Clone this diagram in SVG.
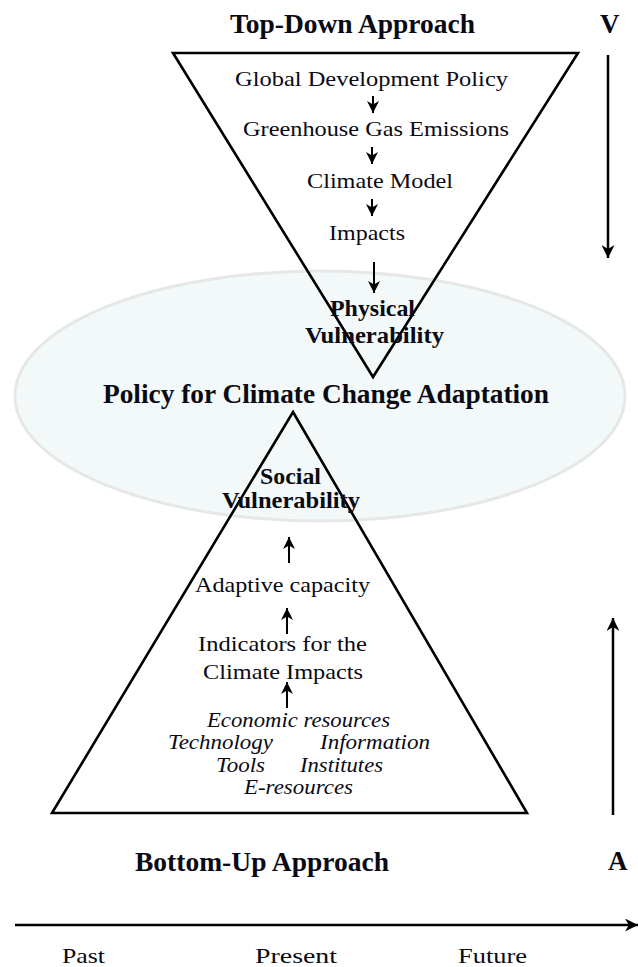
<svg xmlns="http://www.w3.org/2000/svg" width="638" height="967" viewBox="0 0 638 967">
<style>
  text { font-family: "Liberation Serif", "Times New Roman", serif; fill: #0a0a14; }
  .t { font-size: 22px; }
  .b { font-size: 27px; font-weight: bold; }
  .bv { font-size: 24px; font-weight: bold; }
  .i { font-size: 21px; font-style: italic; }
  .tri { fill: none; stroke: #000; stroke-width: 2.6; stroke-linejoin: miter; }
  .arr { fill: none; stroke: #000; stroke-width: 2; marker-end: url(#ah); }
  .big { fill: none; stroke: #000; stroke-width: 2.5; marker-end: url(#ah2); }
</style>
<defs>
  <marker id="ah" viewBox="0 0 10 10" refX="10" refY="5" markerWidth="12" markerHeight="12" markerUnits="userSpaceOnUse" orient="auto">
    <path d="M0,0 L10,5 L0,10 L3,5 Z" fill="#000"/>
  </marker>
  <marker id="ah2" viewBox="0 0 10 10" refX="10" refY="5" markerWidth="13" markerHeight="13" markerUnits="userSpaceOnUse" orient="auto">
    <path d="M0,0 L10,5 L0,10 L3,5 Z" fill="#000"/>
  </marker>
</defs>
<rect width="638" height="967" fill="#fff"/>

<g id="policy-ellipse">
  <ellipse cx="320" cy="396" rx="305" ry="125" fill="#f3f8f8" stroke="#e6e8e8" stroke-width="3"/>
</g>

<g id="top-triangle">
  <polygon class="tri" points="173,53 578,53 373,377"/>
</g>
<g id="bottom-triangle">
  <polygon class="tri" points="293,412 527,813 52,813"/>
</g>

<g id="connectors">
  <line class="arr" x1="373" y1="96" x2="373" y2="113"/>
  <line class="arr" x1="372" y1="147" x2="372" y2="164"/>
  <line class="arr" x1="372" y1="199" x2="372" y2="216"/>
  <line class="arr" x1="374" y1="262" x2="374" y2="293"/>
  <line class="arr" x1="289" y1="563" x2="289" y2="537"/>
  <line class="arr" x1="287" y1="634" x2="287" y2="608"/>
  <line class="arr" x1="287" y1="708" x2="287" y2="682"/>
  <line class="big" x1="608" y1="55" x2="608" y2="258"/>
  <line class="big" x1="613" y1="815" x2="613" y2="618"/>
  <line class="big" x1="15" y1="925" x2="638" y2="925" stroke-width="3.5"/>
</g>

<g id="title-top">
  <text class="b" x="230" y="33" textLength="245" lengthAdjust="spacingAndGlyphs">Top-Down Approach</text>
  <text class="b" x="600" y="33">V</text>
</g>
<g id="node-global">
  <text class="t" x="235" y="86" textLength="273" lengthAdjust="spacingAndGlyphs">Global Development Policy</text>
</g>
<g id="node-ghg">
  <text class="t" x="243" y="136" textLength="266" lengthAdjust="spacingAndGlyphs">Greenhouse Gas Emissions</text>
</g>
<g id="node-climate-model">
  <text class="t" x="307" y="188" textLength="146" lengthAdjust="spacingAndGlyphs">Climate Model</text>
</g>
<g id="node-impacts">
  <text class="t" x="329" y="240" textLength="76" lengthAdjust="spacingAndGlyphs">Impacts</text>
</g>
<g id="node-physical">
  <text class="bv" x="330" y="316" textLength="85" lengthAdjust="spacingAndGlyphs">Physical</text>
  <text class="bv" x="305" y="343" textLength="139" lengthAdjust="spacingAndGlyphs">Vulnerability</text>
</g>
<g id="node-policy">
  <text class="b" x="103" y="403" textLength="446" lengthAdjust="spacingAndGlyphs">Policy for Climate Change Adaptation</text>
</g>
<g id="node-social">
  <text class="bv" x="260" y="484" textLength="61" lengthAdjust="spacingAndGlyphs">Social</text>
  <text class="bv" x="222" y="508" textLength="138" lengthAdjust="spacingAndGlyphs">Vulnerability</text>
</g>
<g id="node-adaptive">
  <text class="t" x="195" y="592" textLength="175" lengthAdjust="spacingAndGlyphs">Adaptive capacity</text>
</g>
<g id="node-indicators">
  <text class="t" x="198" y="651" textLength="169" lengthAdjust="spacingAndGlyphs">Indicators for the</text>
  <text class="t" x="203" y="679" textLength="160" lengthAdjust="spacingAndGlyphs">Climate Impacts</text>
</g>
<g id="node-resources">
  <text class="i" x="207" y="727" textLength="183" lengthAdjust="spacingAndGlyphs">Economic resources</text>
  <text class="i" x="168" y="749" textLength="105" lengthAdjust="spacingAndGlyphs">Technology</text>
  <text class="i" x="320" y="749" textLength="110" lengthAdjust="spacingAndGlyphs">Information</text>
  <text class="i" x="216" y="772" textLength="49" lengthAdjust="spacingAndGlyphs">Tools</text>
  <text class="i" x="300" y="772" textLength="83" lengthAdjust="spacingAndGlyphs">Institutes</text>
  <text class="i" x="244" y="794" textLength="109" lengthAdjust="spacingAndGlyphs">E-resources</text>
</g>
<g id="title-bottom">
  <text class="b" x="135" y="871" textLength="254" lengthAdjust="spacingAndGlyphs">Bottom-Up Approach</text>
  <text class="b" x="608" y="870">A</text>
</g>
<g id="timeline-labels">
  <text class="t" x="62" y="963" textLength="43" lengthAdjust="spacingAndGlyphs">Past</text>
  <text class="t" x="255" y="963" textLength="82" lengthAdjust="spacingAndGlyphs">Present</text>
  <text class="t" x="458" y="963" textLength="69" lengthAdjust="spacingAndGlyphs">Future</text>
</g>
</svg>
